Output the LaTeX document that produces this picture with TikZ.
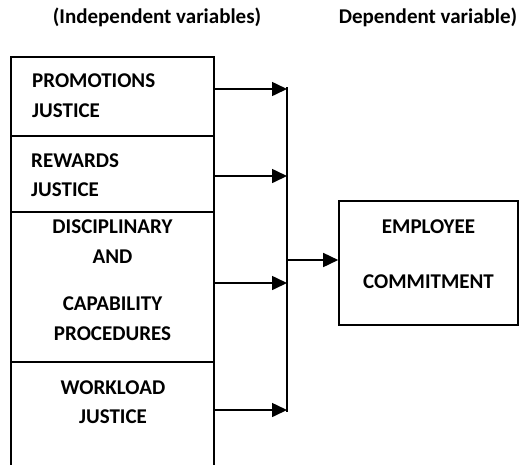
\documentclass[tikz,border=0pt]{standalone}
\usepackage{fontspec}
\setmainfont{Carlito}
\usetikzlibrary{arrows.meta}

\begin{document}
\begin{tikzpicture}[x=1pt, y=-1pt,
 every node/.style={font=\bfseries\fontsize{21}{29.5}\selectfont},
block/.style={rectangle, draw=black, inner sep=0pt, minimum width=203pt, line width=1.6pt},
outbox/.style={rectangle, draw=black, inner sep=0pt, minimum width=179pt, minimum height=124pt, line width=1.6pt},
str/.style={rectangle, inner sep=0pt, align=center},
arrow/.style={-{Triangle[length=15pt, width=14pt]}, line width=1.6pt}]

	\useasboundingbox (0,0) rectangle (521,464);

	% headings
	\node[str] (indep) at (157,17) {(Independent variables)};
	\node[str] (dep) at (428,17) {Dependent variable)};

	% independent variables
	\node[block, minimum height=79pt] (promo) at (112.5,96.5) {};
	\node[block, minimum height=76pt] (reward) at (112.5,174) {};
	\node[block, minimum height=150pt] (discip) at (112.5,287) {};
	\node[block, minimum height=108pt] (work) at (112.5,416) {};

	\node[str, anchor=west, align=left] (promoText) at (32,95.5) {PROMOTIONS\\ JUSTICE};
	\node[str, anchor=west, align=left] (rewardText) at (31,175) {REWARDS\\ JUSTICE};
	\node[str] (discipText) at (112.5,280) {DISCIPLINARY\\ AND\\[18pt] CAPABILITY\\ PROCEDURES};
	\node[str] (workText) at (113,402) {WORKLOAD\\ JUSTICE};

	% dependent variable
	\node[outbox] (commit) at (428.5,263) {};
	\node[str] (commitText) at (428.5,254) {EMPLOYEE\\[26pt] COMMITMENT};

	% bus line
	\coordinate (top) at (287,87);
	\coordinate (bottom) at (287,412);
	\coordinate (in1) at (287,89);
	\coordinate (in2) at (287,176);
	\coordinate (in3) at (287,283);
	\coordinate (in4) at (287,410);
	\coordinate (join) at (287,260);

	\draw[line width=1.6pt] (top) -- (bottom);
	\draw[arrow] (promo.east |- in1) -- (in1);
	\draw[arrow] (reward.east |- in2) -- (in2);
	\draw[arrow] (discip.east |- in3) -- (in3);
	\draw[arrow] (work.east |- in4) -- (in4);
	\draw[arrow] (join) -- (commit.west |- join);
\end{tikzpicture}
\end{document}
